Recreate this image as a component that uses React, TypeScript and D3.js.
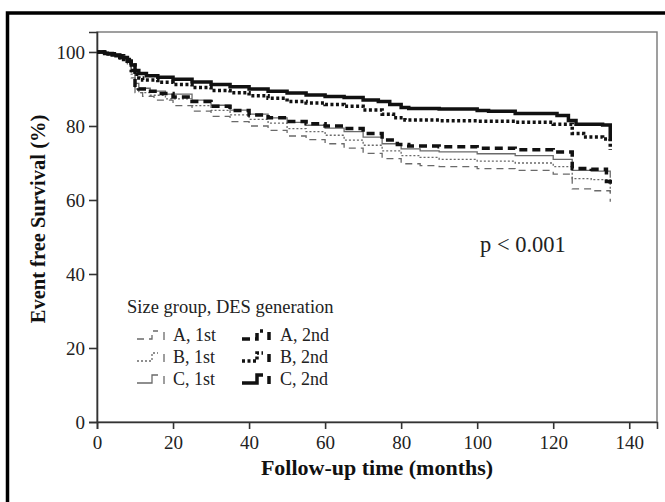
import React, { useEffect, useRef } from 'react';
import * as d3 from 'd3';

const xTicks = [0, 20, 40, 60, 80, 100, 120, 140];
const yTicks = [0, 20, 40, 60, 80, 100];
const legendTitle = 'Size group, DES generation';
const pText = 'p < 0.001';

// [months, survival %]
const a1st: [number, number][] = [
  [0, 100], [3, 99.2], [6, 98], [8, 96.5], [9, 93], [10, 89], [12, 88], [15, 87], [20, 85.5],
  [25, 84], [30, 82.6], [35, 81.2], [40, 80], [45, 78.8], [50, 77.3], [55, 76.3], [60, 75.2],
  [65, 74], [70, 72.6], [75, 71.2], [80, 69.8], [85, 69.3], [90, 69], [100, 68.5], [110, 68],
  [120, 67], [125, 63], [130, 62.5], [135, 59.5],
];
const b1st: [number, number][] = [
  [0, 100], [3, 99.3], [6, 98.3], [8, 97], [9, 94], [10, 90], [11, 89], [14, 88.3], [18, 87.3],
  [25, 85.5], [30, 84.2], [35, 83], [40, 81.8], [45, 80.8], [50, 79.3], [55, 78.5], [60, 77.5],
  [65, 76.2], [70, 74.8], [75, 73.3], [80, 72], [85, 71.5], [90, 71], [100, 70.5], [110, 70],
  [120, 69], [125, 65.8], [130, 65.5], [135, 62],
];
const c1st: [number, number][] = [
  [0, 100], [3, 99.4], [6, 98.5], [8, 97.2], [9, 95], [10, 91.5], [11, 90.2], [14, 89.4],
  [18, 88.6], [25, 87], [30, 85.6], [35, 84.3], [40, 83.2], [45, 82.2], [50, 81], [55, 80.2],
  [60, 79.4], [65, 78.5], [70, 77], [75, 75.2], [80, 73.8], [85, 73.3], [90, 73], [100, 72.5],
  [110, 72], [120, 71], [125, 68], [130, 67.8], [135, 66],
];
const a2nd: [number, number][] = [
  [0, 100], [3, 99.5], [6, 98.5], [8, 97.5], [9, 95], [10, 91], [11, 90], [13, 89.4], [16, 88.8],
  [20, 87.8], [25, 86.6], [30, 85.3], [35, 84.2], [40, 83], [45, 82.2], [50, 81.2], [55, 80.6],
  [60, 80], [65, 79.3], [70, 78], [75, 76.2], [79, 75], [82, 74.6], [90, 74.4], [100, 74],
  [110, 73.6], [120, 73], [125, 68.5], [130, 68.3], [134, 65], [135, 63.5],
];
const b2nd: [number, number][] = [
  [0, 100], [2, 99.5], [5, 99], [7, 98], [9, 96.5], [10, 94], [11, 93], [12, 92.4], [16, 91.8],
  [20, 91.2], [25, 90.4], [30, 89.6], [35, 89], [40, 88.2], [45, 87.5], [50, 86.6], [55, 86.2],
  [60, 85.8], [65, 85.3], [70, 84.3], [75, 83.2], [78, 82.2], [81, 81.6], [90, 81.4], [100, 81.3],
  [110, 81], [120, 80.5], [125, 78], [128, 77], [133, 76.5], [135, 73.5],
];
const c2nd: [number, number][] = [
  [0, 100], [2, 99.6], [4, 99.2], [6, 98.5], [8, 97.5], [9, 96.5], [10, 95], [11, 94.2],
  [13, 93.6], [16, 93.2], [20, 92.6], [25, 91.9], [30, 91.2], [35, 90.6], [40, 90], [45, 89.4],
  [50, 88.9], [55, 88.4], [60, 88], [65, 87.7], [70, 87], [74, 86.6], [77, 85.8], [80, 85],
  [82, 84.7], [90, 84.6], [100, 84.2], [103, 84], [110, 83.4], [121, 82.8], [124, 81.5],
  [126, 80.5], [133, 80.3], [135, 76],
];

const series = [
  { name: 'A, 1st', data: a1st, color: '#6a6a6a', width: 1.3, dash: '7 5' },
  { name: 'B, 1st', data: b1st, color: '#6a6a6a', width: 1.3, dash: '2 2' },
  { name: 'C, 1st', data: c1st, color: '#6a6a6a', width: 1.3, dash: null },
  { name: 'A, 2nd', data: a2nd, color: '#111', width: 3.5, dash: '8 5' },
  { name: 'B, 2nd', data: b2nd, color: '#111', width: 3.5, dash: '3 2.5' },
  { name: 'C, 2nd', data: c2nd, color: '#111', width: 3.5, dash: null },
];

const serif = '"Liberation Serif", "Times New Roman", serif';

const App = () => {
  const ref = useRef<SVGSVGElement>(null);

  useEffect(() => {
    const svg = d3.select(ref.current);
    svg.selectAll('*').remove();

    const left = 97, right = 657, top = 32, bottom = 422;
    const x = d3.scaleLinear().domain([0, 147.3]).range([left, right]);
    const y = d3.scaleLinear().domain([0, 105.4]).range([bottom, top]);

    // outer frame, cut at the right and bottom edges
    svg.append('rect')
      .attr('x', 7.5).attr('y', 13)
      .attr('width', 720).attr('height', 560)
      .attr('fill', 'none').attr('stroke', '#000').attr('stroke-width', 3.5);

    svg.append('rect')
      .attr('x', left).attr('y', top)
      .attr('width', right - left).attr('height', bottom - top)
      .attr('fill', 'none').attr('stroke', '#777').attr('stroke-width', 1.4);

    const xAxis = svg.append('g')
      .attr('transform', `translate(0,${bottom})`)
      .call(d3.axisBottom(x).tickValues(xTicks).tickSize(7).tickPadding(7).tickFormat(d3.format('d')));
    const yAxis = svg.append('g')
      .attr('transform', `translate(${left},0)`)
      .call(d3.axisLeft(y).tickValues(yTicks).tickSize(8).tickPadding(4).tickFormat(d3.format('d')));

    [xAxis, yAxis].forEach(g => {
      g.selectAll('path').attr('stroke', '#333').attr('stroke-width', 1.6);
      g.selectAll('line').attr('stroke', '#333').attr('stroke-width', 1.6);
      g.selectAll('text')
        .attr('font-family', serif).attr('font-size', 19).attr('fill', '#222');
    });

    const line = d3.line<[number, number]>()
      .x(d => x(d[0]))
      .y(d => y(d[1]))
      .curve(d3.curveStepAfter);

    series.forEach(s => {
      svg.append('path')
        .attr('d', line(s.data))
        .attr('fill', 'none')
        .attr('stroke', s.color)
        .attr('stroke-width', s.width)
        .attr('stroke-dasharray', s.dash);
    });

    svg.append('text')
      .attr('x', 480).attr('y', 252)
      .attr('font-family', serif).attr('font-size', 22.5).attr('fill', '#222')
      .text(pText);

    // legend
    svg.append('text')
      .attr('x', 127).attr('y', 313)
      .attr('font-family', serif).attr('font-size', 18.5).attr('fill', '#222')
      .text(legendTitle);

    series.forEach((s, i) => {
      const col = i < 3 ? 0 : 1;
      const row = i % 3;
      const sx = col === 0 ? 137 : 242;
      const tx = col === 0 ? 173 : 280;
      const cy = 336 + row * 22;
      const g = svg.append('g');
      g.append('path')
        .attr('d', `M${sx},${cy + 3}H${sx + 15}V${cy - 5}H${sx + 21}`)
        .attr('fill', 'none')
        .attr('stroke', s.color)
        .attr('stroke-width', s.width)
        .attr('stroke-dasharray', s.dash);
      g.append('line')
        .attr('x1', sx + 27).attr('x2', sx + 27)
        .attr('y1', cy - 4).attr('y2', cy + 4)
        .attr('stroke', s.color)
        .attr('stroke-width', s.width);
      g.append('text')
        .attr('x', tx).attr('y', cy + 5)
        .attr('font-family', serif).attr('font-size', 18).attr('fill', '#222')
        .text(s.name);
    });

    svg.append('text')
      .attr('x', (left + right) / 2).attr('y', 475)
      .attr('text-anchor', 'middle')
      .attr('font-family', serif).attr('font-size', 22).attr('font-weight', 'bold').attr('fill', '#111')
      .text('Follow-up time (months)');

    svg.append('text')
      .attr('transform', `translate(45,219) rotate(-90)`)
      .attr('text-anchor', 'middle')
      .attr('font-family', serif).attr('font-size', 20.5).attr('font-weight', 'bold').attr('fill', '#111')
      .text('Event free Survival (%)');
  }, []);

  return (
    <svg ref={ref} width={665} height={502}
      style={{ position: 'absolute', left: 0, top: 0, background: '#fff' }} />
  );
};

export default App;
